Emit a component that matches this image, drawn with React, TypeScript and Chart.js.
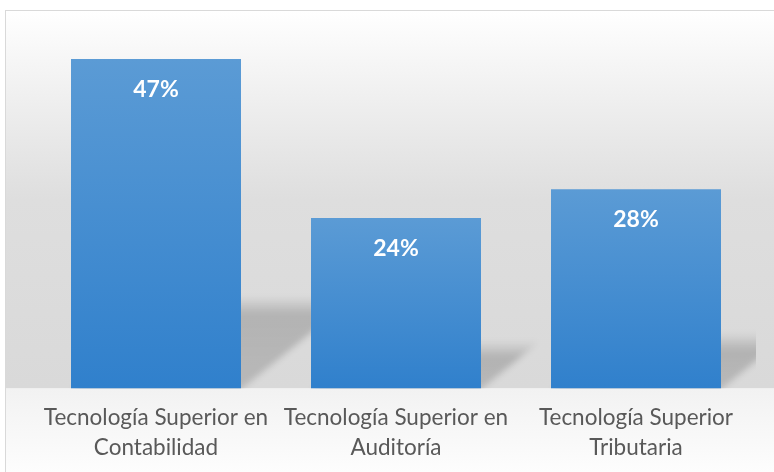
import React, { useEffect, useRef } from "react";
import { Chart, registerables } from "chart.js";

Chart.register(...registerables);

const categories: string[][] = [
  ["Tecnología Superior en", "Contabilidad"],
  ["Tecnología Superior en", "Auditoría"],
  ["Tecnología Superior", "Tributaria"],
];
const values: number[] = [0.466, 0.241, 0.282];
const valueLabels: string[] = ["47%", "24%", "28%"];
const yMax = 0.5;

const backgroundPlugin = {
  id: "bgFrame",
  beforeDraw(chart: any) {
    const ctx = chart.ctx;
    const { width, height } = chart;
    const base = chart.chartArea.bottom;
    const fx = 5;
    const fy = 10;
    ctx.save();
    ctx.fillStyle = "#ffffff";
    ctx.fillRect(0, 0, width, height);
    const g = ctx.createLinearGradient(0, fy, 0, base);
    g.addColorStop(0, "#ffffff");
    g.addColorStop(0.25, "#eeeeee");
    g.addColorStop(0.5, "#dedede");
    g.addColorStop(1, "#d9d9d9");
    ctx.fillStyle = g;
    ctx.fillRect(fx, fy, width - fx, base - fy);
    const g2 = ctx.createLinearGradient(0, base, 0, height);
    g2.addColorStop(0, "#f2f2f2");
    g2.addColorStop(1, "#fdfdfd");
    ctx.fillStyle = g2;
    ctx.fillRect(fx, base, width - fx, height - base);
    ctx.strokeStyle = "#d9d9d9";
    ctx.lineWidth = 1;
    ctx.strokeRect(fx + 0.5, fy + 0.5, width + 20, height + 20);
    ctx.restore();
  },
};

const shadowPlugin = {
  id: "barShadows",
  beforeDatasetsDraw(chart: any) {
    const ctx = chart.ctx;
    const area = chart.chartArea;
    const meta = chart.getDatasetMeta(0);
    meta.data.forEach((bar: any) => {
      const { x, y, base, width } = bar.getProps(["x", "y", "base", "width"], true);
      const L = x - width / 2;
      const R = x + width / 2;
      const h = base - y;
      const sh = 0.28 * h;
      const s = 1.25 * sh;
      const top = base - sh;
      ctx.save();
      ctx.beginPath();
      ctx.rect(area.left, area.top, area.right - area.left, base - area.top);
      ctx.clip();
      ctx.filter = "blur(3px)";
      const g = ctx.createLinearGradient(0, top, 0, base);
      g.addColorStop(0, "rgba(0,0,0,0)");
      g.addColorStop(Math.min(0.35, 18 / sh), "rgba(0,0,0,0.18)");
      g.addColorStop(1, "rgba(0,0,0,0.15)");
      ctx.fillStyle = g;
      ctx.beginPath();
      ctx.moveTo(L, base + 4);
      ctx.lineTo(R - 4, base + 4);
      ctx.lineTo(R + s, top);
      ctx.lineTo(L + s, top);
      ctx.closePath();
      ctx.fill();
      ctx.restore();
    });
  },
};

const labelPlugin = {
  id: "valueLabels",
  afterDatasetsDraw(chart: any) {
    const ctx = chart.ctx;
    const meta = chart.getDatasetMeta(0);
    ctx.save();
    ctx.fillStyle = "#ffffff";
    ctx.font = "bold 23px Lato";
    ctx.textAlign = "center";
    ctx.textBaseline = "alphabetic";
    meta.data.forEach((bar: any, i: number) => {
      const { x, y } = bar.getProps(["x", "y"], true);
      ctx.fillText(valueLabels[i], x, y + 38);
    });
    ctx.restore();
  },
};

export default function App() {
  const ref = useRef<HTMLCanvasElement | null>(null);
  useEffect(() => {
    document.body.style.margin = "0";
    const canvas = ref.current;
    if (!canvas) return;
    const chart = new Chart(canvas, {
      type: "bar",
      data: {
        labels: categories,
        datasets: [
          {
            data: values,
            backgroundColor: (c: any) => {
              const ch = c.chart;
              const area = ch.chartArea;
              if (!area || c.type !== "data") return "#4a8fd3";
              const yTop = ch.scales.y.getPixelForValue(c.raw);
              const g = ch.ctx.createLinearGradient(0, yTop, 0, area.bottom);
              g.addColorStop(0, "#5b9bd5");
              g.addColorStop(1, "#3080cc");
              return g;
            },
            borderWidth: 0,
            barPercentage: 170 / 240,
            categoryPercentage: 1,
          },
        ],
      },
      options: {
        responsive: false,
        animation: false,
        devicePixelRatio: 1,
        layout: { padding: { left: 36, right: 18, top: 35, bottom: -5 } },
        plugins: {
          legend: { display: false },
          tooltip: { enabled: false },
        },
        scales: {
          x: {
            grid: { display: false, drawTicks: false },
            border: { display: false },
            ticks: {
              color: "#595959",
              font: { family: "Lato", size: 22.5, lineHeight: 1.3 },
              padding: 15,
              maxRotation: 0,
              minRotation: 0,
              autoSkip: false,
            },
          },
          y: { display: false, min: 0, max: yMax },
        },
      },
      plugins: [backgroundPlugin, shadowPlugin, labelPlugin],
    });
    return () => chart.destroy();
  }, []);
  return (
    <div style={{ width: 774, height: 472 }}>
      <canvas ref={ref} width={774} height={472} style={{ display: "block" }} />
    </div>
  );
}
